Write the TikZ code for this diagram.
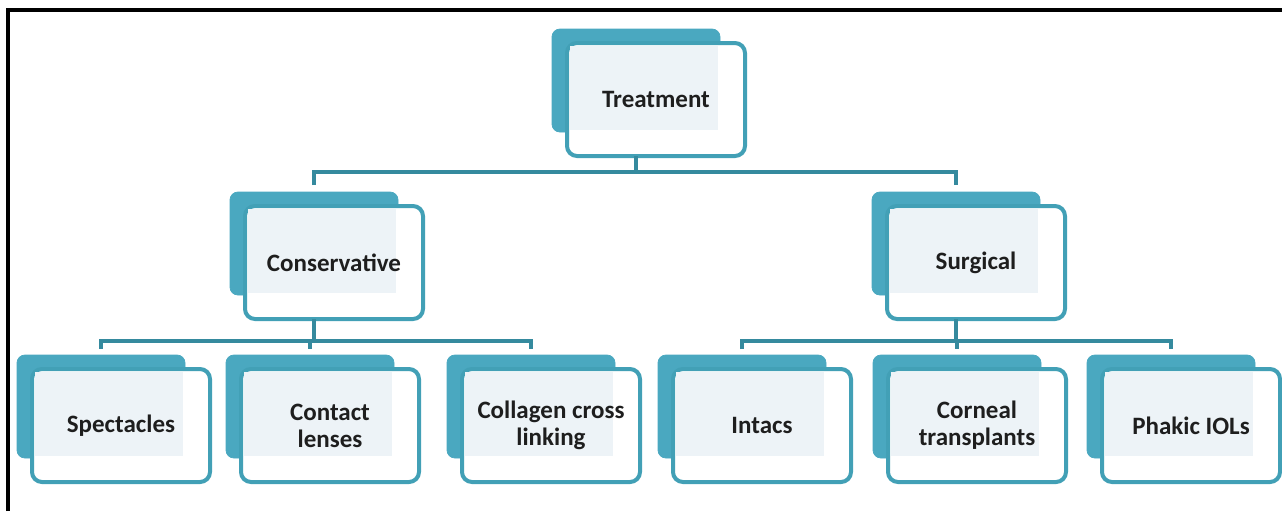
\documentclass[tikz,border=0pt]{standalone}
\usepackage{fontspec}
\setmainfont{Carlito}
\usetikzlibrary{calc}
\definecolor{tealback}{HTML}{4AA8C0}
\definecolor{tealedge}{HTML}{42A0B6}
\definecolor{connc}{HTML}{358A9E}
\definecolor{lightf}{HTML}{EDF3F7}
\definecolor{txt}{HTML}{1E1E1E}
\newcommand\tnode[4]{%
  \node[backbox] (#1b) at (#2,#3) {};
  \node[frontbox] (#1f) at (#2+15,#3+14) {};
  \fill[lightf] (#2+18,#3+17) rectangle (#2+166,#3+101);
  \node[lbl] (#1t) at (#1f.center) {#4};
}
\begin{document}
\begin{tikzpicture}[x=0.5pt,y=-0.5pt,
  backbox/.style={draw=tealback, fill=tealback, rounded corners=4pt, minimum width=84pt, minimum height=51.5pt, inner sep=0pt, outer sep=0pt, anchor=north west},
  frontbox/.style={draw=tealedge, line width=2pt, fill=white, rounded corners=5pt, minimum width=89pt, minimum height=56.5pt, inner sep=0pt, outer sep=0pt, anchor=north west},
  lbl/.style={font=\fontsize{12.5}{13.5}\selectfont\bfseries, text=txt, align=center},
  conn/.style={draw=connc, line width=2pt},
  frame/.style={line width=1.6pt}]
\useasboundingbox (0,0) rectangle (1282,511);
\draw[frame] (8,511) -- (8,10) -- (1282,10);

\tnode{treat}{552}{29}{Treatment}
\tnode{cons}{230}{192}{Conservative}
\tnode{surg}{872}{192}{Surgical}
\tnode{spec}{17}{355}{Spectacles}
\tnode{cont}{226}{355}{Contact\\lenses}
\tnode{coll}{447}{355}{Collagen cross\\linking}
\tnode{inta}{658}{355}{Intacs}
\tnode{corn}{873}{355}{Corneal\\transplants}
\tnode{phak}{1087}{355}{Phakic IOLs}

% level 1 to level 2
\coordinate (j1) at ($(treatb.center |- treatf.south)+(0,16)$);
\draw[conn] (treatb.center |- treatf.south) -- (j1);
\draw[conn] ($(consb.north)+(0,-7)$) |- (j1) -| ($(surgb.north)+(0,-7)$);

% conservative children
\coordinate (j2) at ($(consb.center |- consf.south)+(0,22)$);
\draw[conn] (consb.center |- consf.south) -- (j2);
\draw[conn] ($(specb.north)+(0,-6)$) |- (j2) -| ($(collb.north)+(0,-6)$);
\draw[conn] (contb.north |- j2) -- ($(contb.north)+(0,-6)$);

% surgical children
\coordinate (j3) at ($(surgb.center |- surgf.south)+(0,22)$);
\draw[conn] (surgb.center |- surgf.south) -- (j3);
\draw[conn] ($(intab.north)+(0,-6)$) |- (j3) -| ($(phakb.north)+(0,-6)$);
\draw[conn] (cornb.north |- j3) -- ($(cornb.north)+(0,-6)$);
\end{tikzpicture}
\end{document}
